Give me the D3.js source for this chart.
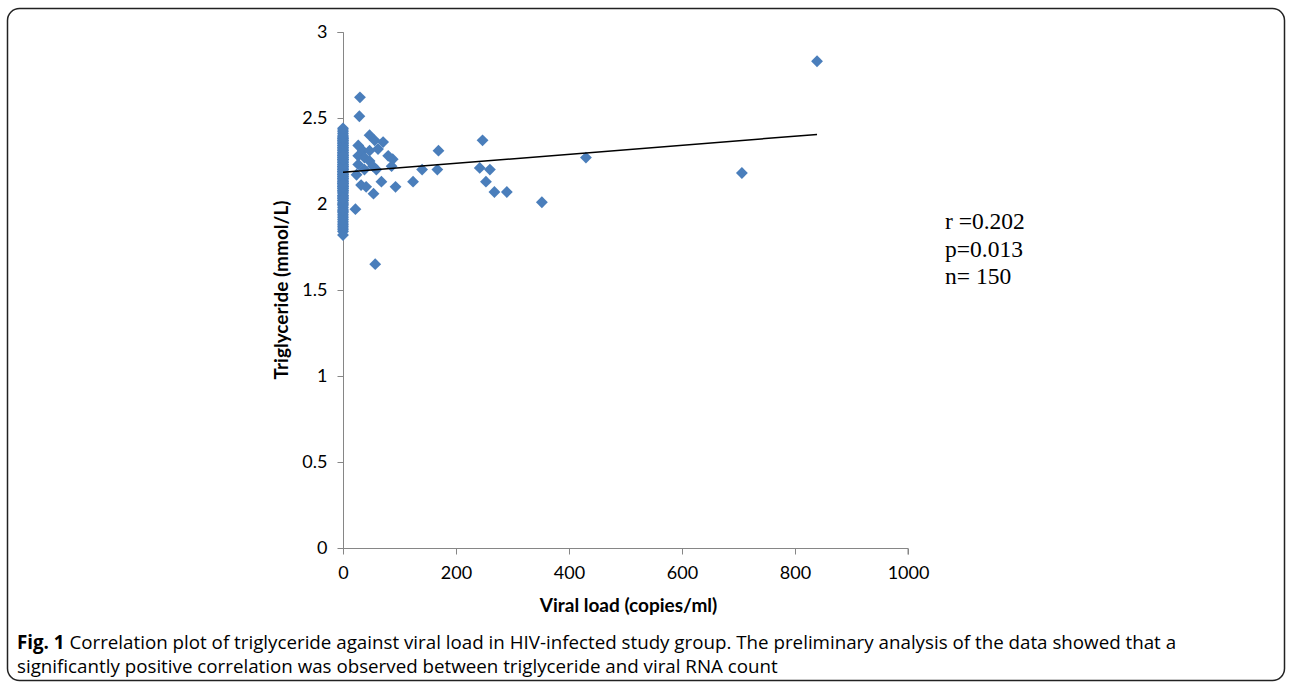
<!DOCTYPE html>
<html>
<head>
<meta charset="utf-8">
<script src="https://cdn.jsdelivr.net/npm/d3@7"></script>
<style>
  body { margin: 0; background: #fff; }
  svg text { fill: #000; }
</style>
</head>
<body>
<div id="chart"></div>
<script>
// data
// patients with a measurable viral load
var viralLoad = [30, 29, 47, 56, 71, 27, 35, 47, 62, 80, 88, 27, 38, 47, 27, 53, 38, 59, 86, 24,
  68, 32, 41, 93, 54, 22, 57, 124, 140, 169, 167, 247, 242, 260, 253, 268, 290, 352, 430, 706, 839];
var triglyceride = [2.62, 2.51, 2.40, 2.37, 2.36, 2.34, 2.31, 2.31, 2.32, 2.28, 2.26, 2.28, 2.27, 2.25, 2.23, 2.22, 2.20, 2.20, 2.22, 2.17,
  2.13, 2.11, 2.10, 2.10, 2.06, 1.97, 1.65, 2.13, 2.20, 2.31, 2.20, 2.37, 2.21, 2.20, 2.13, 2.07, 2.07, 2.01, 2.27, 2.18, 2.83];
// patients at viral load 0
var zeroLoadTg = [1.82, 1.84, 1.85, 1.86, 1.87, 1.88, 1.89, 1.90, 1.91, 1.92, 1.93, 1.94, 1.95, 1.96, 1.96,
  1.97, 1.98, 1.99, 2.00, 2.00, 2.01, 2.02, 2.02, 2.03, 2.04, 2.04, 2.05, 2.05, 2.06, 2.07, 2.07, 2.08,
  2.08, 2.09, 2.09, 2.10, 2.10, 2.11, 2.11, 2.12, 2.12, 2.13, 2.13, 2.14, 2.14, 2.15, 2.15, 2.16, 2.16,
  2.17, 2.17, 2.18, 2.18, 2.19, 2.19, 2.20, 2.20, 2.21, 2.21, 2.22, 2.22, 2.23, 2.23, 2.24, 2.24, 2.25,
  2.25, 2.26, 2.26, 2.27, 2.27, 2.28, 2.28, 2.29, 2.29, 2.30, 2.30, 2.31, 2.31, 2.32, 2.32, 2.33, 2.33,
  2.34, 2.34, 2.35, 2.35, 2.36, 2.36, 2.37, 2.37, 2.38, 2.38, 2.39, 2.39, 2.40, 2.41, 2.42, 2.43, 2.44,
  2.15, 2.19, 2.22, 2.26, 2.03, 2.10, 2.17, 2.28, 2.12];
// linear trend line (intercept, slope) and its x range
var trendIntercept = 2.184;
var trendSlope = 0.000263;
var trendRange = [0, 839];

var xTicks = [0, 200, 400, 600, 800, 1000];
var yTicks = [0, 0.5, 1, 1.5, 2, 2.5, 3];
var statsLines = ["r =0.202", "p=0.013", "n= 150"];

var svgWidth = 1292, svgHeight = 689;

var points = zeroLoadTg.map(function(t) { return {v: 0, t: t}; })
  .concat(viralLoad.map(function(v, i) { return {v: v, t: triglyceride[i]}; }));

var svg = d3.select("#chart").append("svg")
  .attr("width", svgWidth)
  .attr("height", svgHeight);

// frame around the figure
svg.append("rect")
  .attr("x", 7.5).attr("y", 8.5)
  .attr("width", 1277).attr("height", 672)
  .attr("rx", 12).attr("ry", 12)
  .attr("fill", "none")
  .attr("stroke", "#222")
  .attr("stroke-width", 1.5);

var x = d3.scaleLinear().domain([0, 1000]).range([343, 908]);
var y = d3.scaleLinear().domain([0, 3]).range([548, 32]);

var axisFont = "Lato, 'Open Sans', sans-serif";

// y axis
var yAxis = svg.append("g")
  .attr("transform", "translate(343.5,0)")
  .call(d3.axisLeft(y).tickValues(yTicks).tickSize(6).tickPadding(10)
    .tickFormat(d3.format("")));
yAxis.select(".domain").attr("stroke", "#868686").attr("d", "M-6," + y(3) + ".5H0V" + y(0) + ".5");
yAxis.selectAll(".tick line").attr("stroke", "#868686");
yAxis.selectAll(".tick text")
  .style("font-family", axisFont).style("font-size", "18px").attr("fill", "#000");

// x axis
var xAxis = svg.append("g")
  .attr("transform", "translate(0,548.5)")
  .call(d3.axisBottom(x).tickValues(xTicks).tickSize(6).tickPadding(12)
    .tickFormat(d3.format("")));
xAxis.select(".domain").attr("stroke", "#868686").attr("d", "M" + x(0) + ",0H" + x(1000) + "V6");
xAxis.selectAll(".tick line").attr("stroke", "#868686");
xAxis.selectAll(".tick text")
  .style("font-family", axisFont).style("font-size", "18px").attr("fill", "#000");

// axis titles
svg.append("text")
  .attr("transform", "translate(288," + ((y(0) + y(3)) / 2) + ") rotate(-90)")
  .attr("text-anchor", "middle")
  .style("font-family", axisFont).style("font-size", "19px").style("font-weight", "bold")
  .text("Triglyceride (mmol/L)");

svg.append("text")
  .attr("x", (x(0) + x(1000)) / 2 + 3)
  .attr("y", 612)
  .attr("text-anchor", "middle")
  .style("font-family", axisFont).style("font-size", "19px").style("font-weight", "bold")
  .text("Viral load (copies/ml)");

// points
svg.append("g").selectAll("path")
  .data(points)
  .enter()
  .append("path")
  .attr("d", d3.symbol().type(d3.symbolSquare).size(70))
  .attr("transform", d => `translate(${x(d.v)},${y(d.t)}) rotate(45)`)
  .attr("fill", "#4a7ebb");

// trend line
svg.append("line")
  .attr("x1", x(trendRange[0])).attr("y1", y(trendIntercept + trendSlope * trendRange[0]))
  .attr("x2", x(trendRange[1])).attr("y2", y(trendIntercept + trendSlope * trendRange[1]))
  .attr("stroke", "#000").attr("stroke-width", 1.5);

// stats annotation
svg.append("g").selectAll("text")
  .data(statsLines)
  .enter()
  .append("text")
  .attr("x", 945)
  .attr("y", (d, i) => 229 + i * 27.5)
  .style("font-family", "'Liberation Serif', serif").style("font-size", "23.5px")
  .text(d => d);

// caption
var cap = svg.append("text")
  .attr("x", 17).attr("y", 649)
  .style("font-family", "'Open Sans', sans-serif").style("font-size", "18.75px");
cap.append("tspan").style("font-weight", "bold").text("Fig. 1");
cap.append("tspan").text(" Correlation plot of triglyceride against viral load in HIV-infected study group. The preliminary analysis of the data showed that a");
svg.append("text")
  .attr("x", 17).attr("y", 673)
  .style("font-family", "'Open Sans', sans-serif").style("font-size", "18.75px")
  .text("significantly positive correlation was observed between triglyceride and viral RNA count");
</script>
</body>
</html>
